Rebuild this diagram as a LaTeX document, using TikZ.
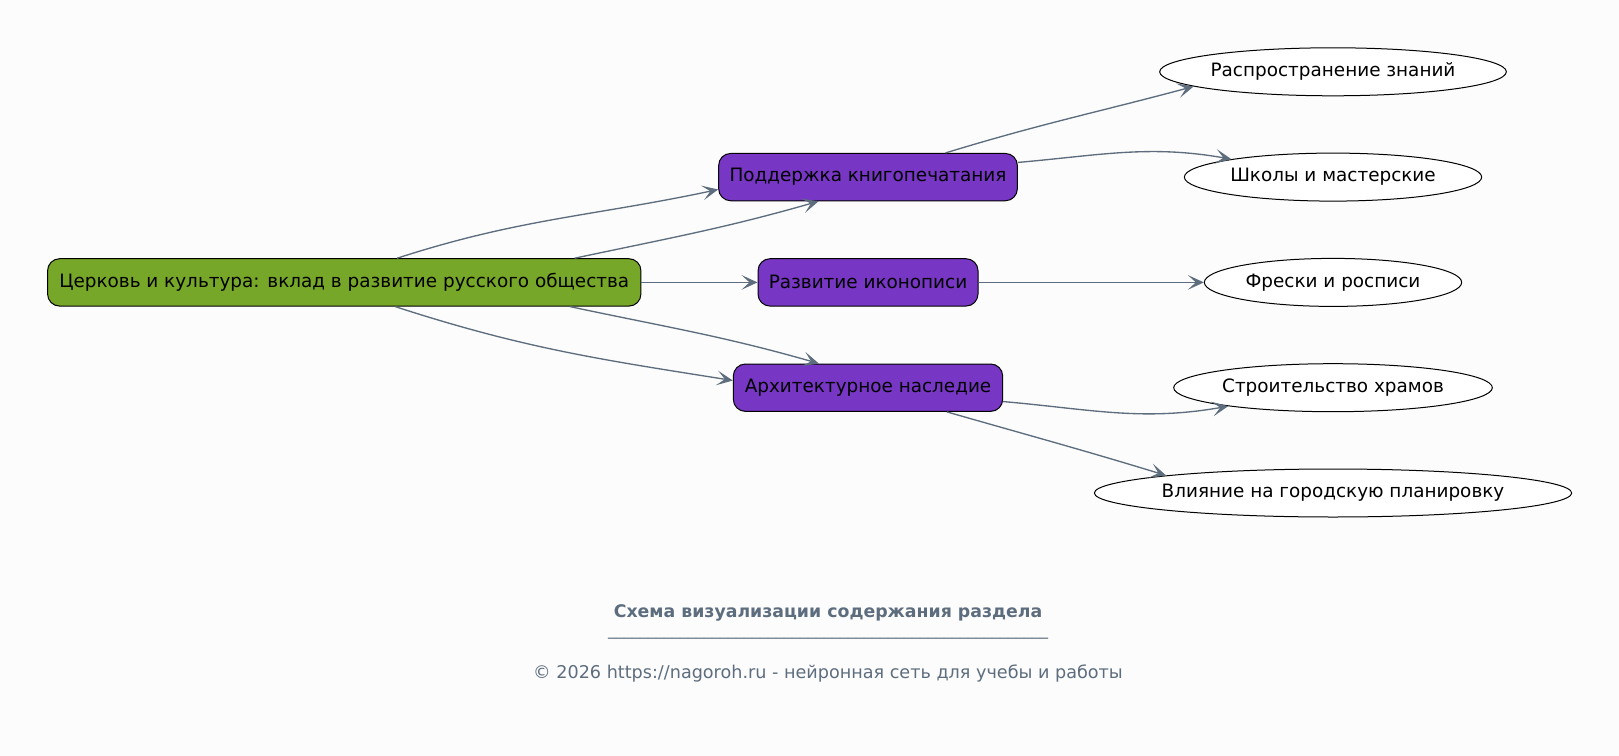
\documentclass[tikz,border=0pt]{standalone}
\usepackage{fontspec}
\setmainfont{DejaVu Sans}
\usetikzlibrary{shapes.geometric,arrows.meta}
\definecolor{bgc}{HTML}{FCFCFC}
\definecolor{greenc}{HTML}{76A728}
\definecolor{purplec}{HTML}{7736C4}
\definecolor{edgec}{HTML}{5D6D7E}
\definecolor{titlec}{HTML}{5D6D7E}
\tikzset{
  rbox/.style={draw=black, line width=0.75pt, rounded corners=9pt, minimum height=35.5pt, inner xsep=0pt, font=\fontsize{13.8}{16}\selectfont, text=black},
  ell/.style={draw=black, line width=0.75pt, ellipse, fill=white, minimum height=36pt, inner xsep=-4pt, inner ysep=0pt, font=\fontsize{13.8}{16}\selectfont, text=black},
  conn/.style={draw=edgec, line width=1pt, -{Stealth[length=12pt,width=11pt,inset=6pt]}},
  foot/.style={text=titlec, inner sep=0pt}
}
\begin{document}
\begin{tikzpicture}[x=0.75pt,y=-0.75pt]
\fill[bgc] (0,0) rectangle (1619,756);
\useasboundingbox (0,0) rectangle (1619,756);

\node[rbox, fill=greenc, minimum width=445pt] (g) at (344.25,282.4) {Церковь и культура: вклад в развитие русского общества};
\node[rbox, fill=purplec, minimum width=224pt] (p) at (868,177.1) {Поддержка книгопечатания};
\node[rbox, fill=purplec, minimum width=165pt] (r) at (868,282.4) {Развитие иконописи};
\node[rbox, fill=purplec, minimum width=202pt] (a) at (868,387.7) {Архитектурное наследие};

\node[ell, minimum width=260pt] (e1) at (1333,71.8) {Распространение знаний};
\node[ell, minimum width=223pt] (e2) at (1333,177.1) {Школы и мастерские};
\node[ell, minimum width=193pt] (e3) at (1333,282.4) {Фрески и росписи};
\node[ell, minimum width=239pt] (e4) at (1333,387.7) {Строительство храмов};
\node[ell, minimum width=358pt] (e5) at (1333,493) {Влияние на городскую планировку};

\draw[conn] ([xshift=262.5pt]g.north west) to[out=18,in=192] ([yshift=-9.3pt]p.west);
\draw[conn] ([xshift=395.6pt]g.north west) to[out=12,in=196] ([xshift=75.3pt]p.south west);
\draw[conn] (g.east) -- (r.west);
\draw[conn] ([xshift=261pt]g.south west) to[out=-18,in=171] ([yshift=5.4pt]a.west);
\draw[conn] ([xshift=392pt]g.south west) to[out=-12,in=164] ([xshift=64.5pt]a.north west);

\draw[conn] ([xshift=170.5pt]p.north west) to[out=17,in=195] (e1.186);
\draw[conn] ([yshift=11pt]p.east) to[out=5,in=170] (e2.170);
\draw[conn] (r.east) -- (e3.west);
\draw[conn] ([yshift=-10.4pt]a.east) to[out=-5,in=190] (e4.190);
\draw[conn] ([xshift=160.5pt]a.south west) to[out=-16,in=163] (e5.174);

\node[foot, font=\bfseries\fontsize{13}{15}\selectfont] (t1) at (828,613) {Схема визуализации содержания раздела};
\node[foot, font=\fontsize{12}{14}\selectfont] (t2) at (828,637) {\_\_\_\_\_\_\_\_\_\_\_\_\_\_\_\_\_\_\_\_\_\_\_\_\_\_\_\_\_\_\_\_\_\_\_\_\_\_\_\_\_\_\_\_\_\_\_\_\_\_\_\_\_\_\_};
\node[foot, font=\fontsize{13.2}{15}\selectfont] (t3) at (828,673) {© 2026 https://nagoroh.ru - нейронная сеть для учебы и работы};
\end{tikzpicture}
\end{document}
